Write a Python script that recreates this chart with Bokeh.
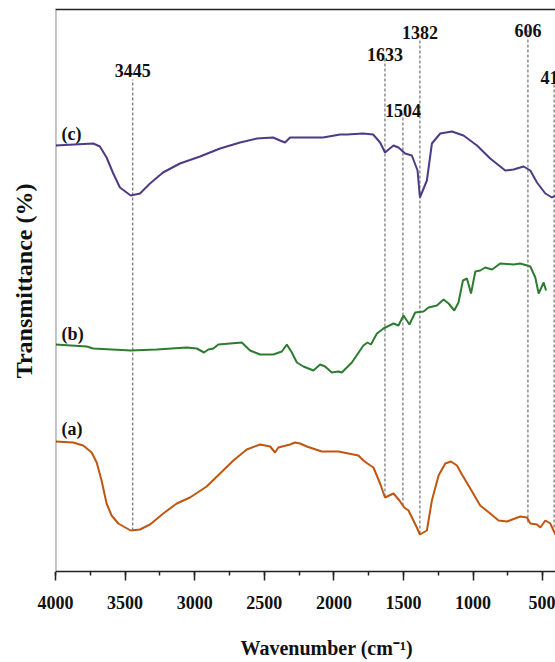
from bokeh.plotting import figure
from bokeh.models import (Range1d, LinearAxis, SingleIntervalTicker, FixedTicker, Title,
                          ColorBar, LinearColorMapper)
from bokeh.core.properties import value
from bokeh.embed import file_html
from bokeh.resources import INLINE

# ---- data (transmittance in arbitrary offset units) ----
a_wn = [4000, 3873, 3801, 3740, 3704, 3669, 3633, 3597, 3549, 3460, 3393, 3321, 3226, 3129, 3034, 2914,
        2818, 2722, 2626, 2530, 2458, 2423, 2399, 2315, 2279, 2243, 2195, 2087, 1967, 1824, 1788, 1759,
        1716, 1668, 1633, 1572, 1529, 1495, 1464, 1404, 1382, 1332, 1296, 1248, 1200, 1159, 1116, 1080,
        1020, 949, 877, 817, 757, 661, 613, 589, 541, 517, 481, 445, 409]
a_T = [130, 129, 126, 119, 109, 91, 68, 56, 48, 41, 42, 47, 58, 68, 74, 85,
       98, 111, 122, 127, 125, 119, 124, 127, 129, 128, 125, 120, 120, 116, 111, 108,
       104, 88, 74, 78, 71, 64, 61, 44, 37, 41, 71, 96, 108, 110, 106, 97,
       83, 66, 58, 51, 50, 55, 54, 48, 47, 44, 51, 48, 37]

b_wn = [4000, 3776, 3729, 3460, 3273, 3057, 2985, 2933, 2902, 2866, 2830, 2746, 2662, 2602, 2530, 2435,
        2374, 2338, 2302, 2266, 2219, 2147, 2099, 2063, 2015, 1967, 1943, 1871, 1788, 1759, 1734, 1691,
        1644, 1572, 1536, 1500, 1457, 1416, 1356, 1320, 1260, 1212, 1176, 1135, 1105, 1073, 1044, 1015,
        984, 949, 913, 864, 805, 709, 661, 589, 553, 529, 493, 476]
b_T = [227, 225, 223, 221, 222, 224, 223, 219, 222, 223, 227, 228, 229, 221, 217, 217,
       220, 227, 219, 209, 205, 201, 207, 205, 199, 200, 199, 209, 226, 229, 227, 238,
       243, 248, 246, 256, 247, 259, 260, 264, 266, 272, 268, 261, 269, 291, 293, 278,
       300, 301, 304, 302, 308, 307, 308, 305, 294, 278, 289, 281]

c_wn = [4000, 3729, 3681, 3633, 3585, 3537, 3460, 3393, 3321, 3228, 3106, 2962, 2818, 2674, 2554, 2437,
        2387, 2351, 2315, 2195, 2078, 1955, 1907, 1790, 1718, 1668, 1633, 1572, 1536, 1488, 1440, 1399,
        1382, 1332, 1296, 1236, 1152, 1069, 972, 877, 769, 709, 637, 589, 541, 481, 433, 409]
c_T = [426, 428, 425, 414, 398, 384, 376, 378, 388, 399, 408, 415, 423, 429, 433, 434,
       431, 429, 434, 434, 434, 437, 437, 438, 437, 429, 419, 426, 424, 418, 416, 401,
       374, 391, 428, 438, 440, 436, 426, 413, 401, 402, 405, 401, 389, 378, 374, 376]

series_names = ["(a)", "(b)", "(c)"]
series_label_wn = [3956, 3956, 3956]
series_label_T = [143, 238, 438]

peak_wn = [3445, 1633, 1504, 1382, 606, 418]
peak_text = ["3445", "1633", "1504", "1382", "606", "418"]
peak_line_top = [492, 514, 458, 531, 541, 491]
peak_line_bottom = [41, 75, 66, 38, 49, 44]
peak_label_T = [501, 517, 461, 539, 541, 494]

x_ticks_interval = 500

SERIF = "Liberation Serif"

p = figure(width=555, height=662, x_range=Range1d(4000, 408), y_range=Range1d(0, 562),
           output_backend="svg", toolbar_location=None,
           min_border_left=55, min_border_right=0, min_border_top=9, min_border_bottom=91,
           background_fill_color="white", border_fill_color="white")
p.outline_line_color = None
p.grid.visible = False

# x axis
xa = p.xaxis[0]
xa.ticker = SingleIntervalTicker(interval=x_ticks_interval, num_minor_ticks=2)
xa.axis_line_width = 1.5
xa.axis_line_color = "#222222"
xa.major_tick_line_width = 1.5
xa.major_tick_line_color = "#222222"
xa.minor_tick_line_width = 1.5
xa.minor_tick_line_color = "#222222"
xa.major_tick_in = 0
xa.major_tick_out = 9
xa.minor_tick_in = 0
xa.minor_tick_out = 4
xa.major_label_text_font = SERIF
xa.major_label_text_font_style = "bold"
xa.major_label_text_font_size = "18px"
xa.major_label_text_color = "#111111"
xa.major_label_standoff = 15

# y axis (line only)
ya = p.yaxis[0]
ya.ticker = FixedTicker(ticks=[])
ya.axis_line_width = 1.5
ya.axis_line_color = "#222222"
ya.major_tick_line_color = None
ya.minor_tick_line_color = None
ya.major_tick_out = 0
ya.major_tick_in = 0
ya.major_label_standoff = 0

# blank (white) spacer panels to position the axis titles
blank = LinearColorMapper(palette=["#ffffff"], low=0, high=1)
y_gap = ColorBar(color_mapper=blank, orientation="vertical", width=18, padding=0, margin=0,
                 ticker=FixedTicker(ticks=[]), major_tick_line_color=None, minor_tick_line_color=None,
                 bar_line_color=None, border_line_color=None, background_fill_color="white")
p.add_layout(y_gap, "left")

yt = Title(text="Transmittance (%)", align="right", offset=174, vertical_align="bottom",
           text_font=SERIF, text_font_style="bold", text_font_size="24px",
           text_color="#111111", standoff=2)
p.add_layout(yt, "left")

# top border line
top = LinearAxis(ticker=FixedTicker(ticks=[]), axis_line_width=1.5, axis_line_color="#222222",
                 major_tick_line_color=None, minor_tick_line_color=None,
                 major_tick_in=0, major_tick_out=0, minor_tick_in=0, minor_tick_out=0,
                 major_label_standoff=0)
p.add_layout(top, "above")

x_gap = ColorBar(color_mapper=blank, orientation="horizontal", height=22, padding=0, margin=0,
                 ticker=FixedTicker(ticks=[]), major_tick_line_color=None, minor_tick_line_color=None,
                 bar_line_color=None, border_line_color=None, background_fill_color="white")
p.add_layout(x_gap, "below")

xt = Title(text="Wavenumber (cm\u207b\u00b9)", align="left", offset=185, vertical_align="bottom",
           text_font=SERIF, text_font_style="bold", text_font_size="20px",
           text_color="#111111", standoff=2)
p.add_layout(xt, "below")

# dashed peak lines
p.segment(x0=peak_wn, y0=peak_line_bottom, x1=peak_wn, y1=peak_line_top,
          line_color="#555555", line_width=1, line_dash="3 2")

# spectra
p.line(a_wn, a_T, line_color="#c0560f", line_width=2)
p.line(b_wn, b_T, line_color="#2e7b32", line_width=2)
p.line(c_wn, c_T, line_color="#4e3a85", line_width=2)

# peak labels
p.text(x=peak_wn, y=peak_label_T, text=peak_text, text_align="center", text_baseline="alphabetic",
       text_font=value(SERIF), text_font_style="bold", text_font_size="18px", text_color="#111111")

# series labels
p.text(x=series_label_wn, y=series_label_T, text=series_names, text_align="left",
       text_baseline="alphabetic", text_font=value(SERIF), text_font_style="bold",
       text_font_size="18px", text_color="#111111")

open("out.html", "w").write(file_html(p, INLINE))
